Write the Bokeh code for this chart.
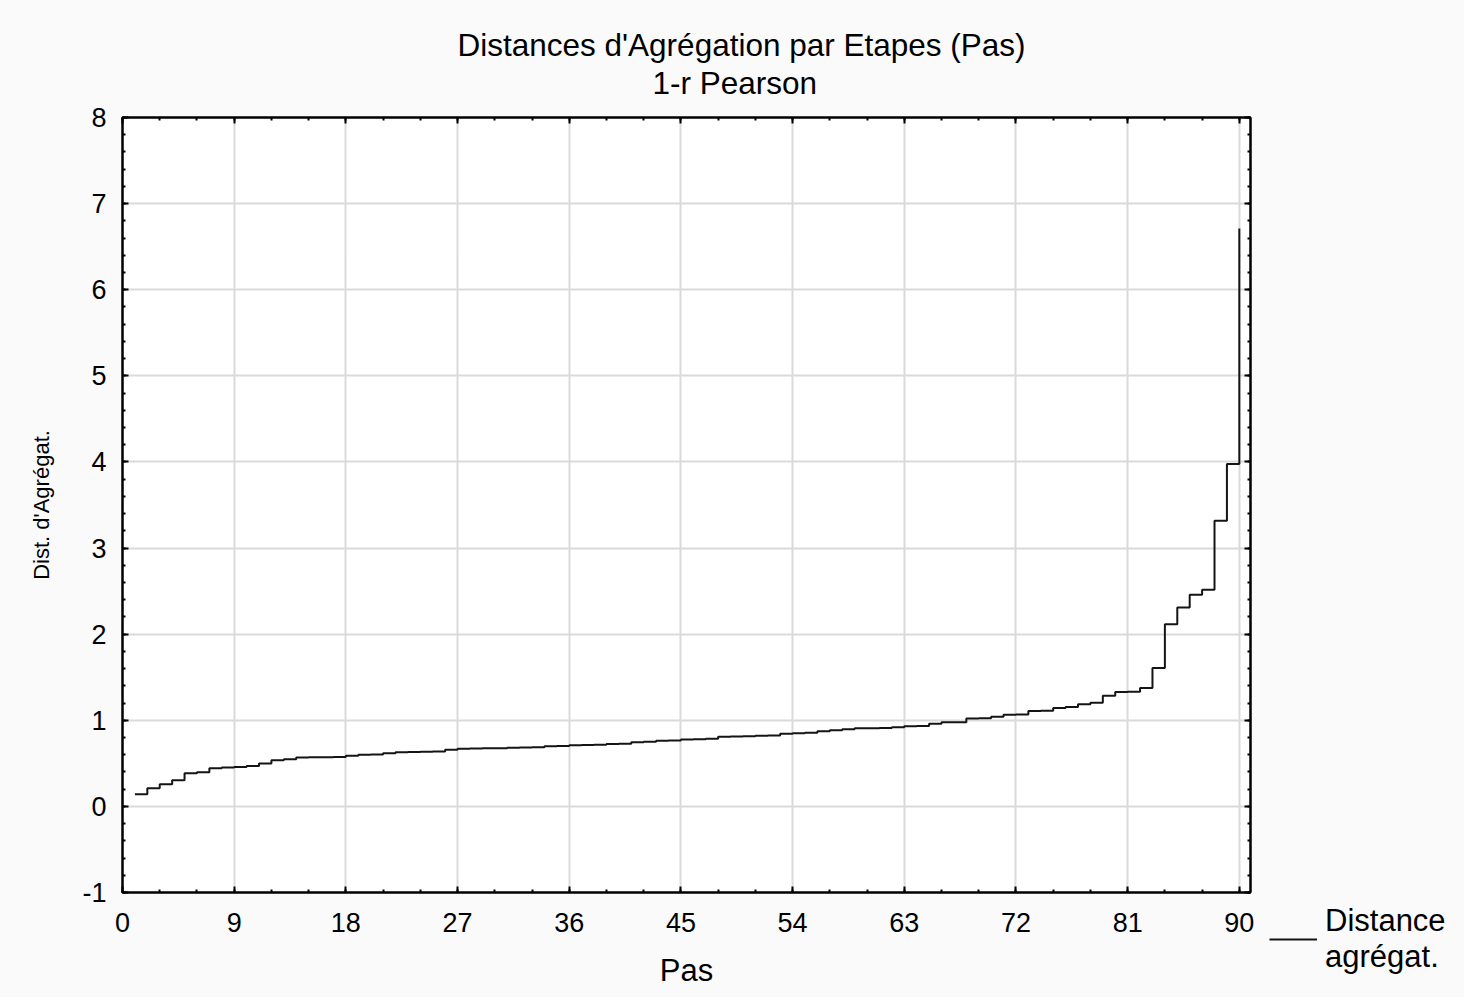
import numpy as np
from bokeh.plotting import figure
from bokeh.layouts import row, column
from bokeh.models import (Range1d, LinearAxis, SingleIntervalTicker, Legend, LegendItem,
                          CustomJSTickFormatter, PrintfTickFormatter, Title, Spacer)
from bokeh.core.properties import value
from bokeh.embed import file_html
from bokeh.resources import INLINE

# ---------------- data ----------------
steps = list(range(1, 91))
distances = [
    0.140, 0.210, 0.257, 0.303, 0.384, 0.396, 0.442, 0.452, 0.456, 0.469,
    0.497, 0.535, 0.547, 0.568, 0.570, 0.571, 0.573, 0.589, 0.600, 0.603,
    0.616, 0.628, 0.633, 0.635, 0.637, 0.659, 0.670, 0.672, 0.674, 0.676,
    0.682, 0.685, 0.688, 0.698, 0.700, 0.709, 0.712, 0.715, 0.725, 0.728,
    0.744, 0.752, 0.763, 0.766, 0.776, 0.779, 0.786, 0.810, 0.812, 0.814,
    0.821, 0.824, 0.845, 0.848, 0.856, 0.872, 0.883, 0.895, 0.906, 0.908,
    0.910, 0.918, 0.930, 0.933, 0.960, 0.976, 0.978, 1.020, 1.025, 1.042,
    1.065, 1.068, 1.107, 1.110, 1.142, 1.154, 1.185, 1.204, 1.285, 1.328,
    1.332, 1.375, 1.606, 2.115, 2.310, 2.457, 2.515, 3.316, 3.977, 6.710,
]
title_line1 = "Distances d'Agrégation par Etapes (Pas)"
title_line2 = "1-r Pearson"
x_label = "Pas"
y_label = "Dist. d'Agrégat."
legend_label = "Distance\nagrégat."
x_interval = 9
y_interval = 1

FONT = "Liberation Sans"
BG = "#fafafa"
LINE = "#141414"

p = figure(width=1262, height=997, output_backend="svg", toolbar_location=None,
           x_range=Range1d(0, 90.9), y_range=Range1d(-1, 8),
           min_border_left=122, min_border_right=12, min_border_top=117,
           min_border_bottom=105)
p.title.visible = False
p.background_fill_color = "white"
p.border_fill_color = BG
p.outline_line_color = "black"
p.outline_line_width = 2

xt = SingleIntervalTicker(interval=x_interval, num_minor_ticks=3)
yt = SingleIntervalTicker(interval=y_interval, num_minor_ticks=5)

bottom_ax = p.below[0]
left_ax = p.left[0]
bottom_ax.ticker = xt
left_ax.ticker = yt
bottom_ax.formatter = PrintfTickFormatter(format="%d")
left_ax.formatter = PrintfTickFormatter(format="%d")
p.xgrid.ticker = xt
p.ygrid.ticker = yt
for g in (p.xgrid[0], p.ygrid[0]):
    g.grid_line_color = "#dadada"
    g.grid_line_width = 2

top_ax = LinearAxis(ticker=xt, formatter=CustomJSTickFormatter(code="return ''"))
right_ax = LinearAxis(ticker=yt, formatter=CustomJSTickFormatter(code="return ''"))
p.add_layout(top_ax, "above")
p.add_layout(right_ax, "right")


def style(ax):
    ax.axis_line_color = "black"
    ax.axis_line_width = 2
    ax.major_tick_in = 6
    ax.major_tick_out = 0
    ax.minor_tick_in = 3
    ax.minor_tick_out = 0
    ax.major_tick_line_color = "black"
    ax.major_tick_line_width = 2
    ax.minor_tick_line_color = "black"
    ax.minor_tick_line_width = 2
    ax.major_label_text_font = FONT
    ax.major_label_text_font_size = "27px"
    ax.major_label_text_color = "black"
    ax.major_label_standoff = 16
    ax.axis_label_text_font = FONT
    ax.axis_label_text_font_style = "normal"
    ax.axis_label_text_color = "black"


for ax in (bottom_ax, left_ax, top_ax, right_ax):
    style(ax)
bottom_ax.major_label_standoff = 20
top_ax.major_label_standoff = 0
right_ax.major_label_standoff = 0

bottom_ax.axis_label = x_label
bottom_ax.axis_label_text_font_size = "31px"
bottom_ax.axis_label_standoff = 18
left_ax.axis_label = y_label
left_ax.axis_label_text_font_size = "22px"
left_ax.axis_label_standoff = 25

r = p.step(steps, distances, mode="after", line_color=LINE, line_width=2)

# titles: added closest-first
t2 = Title(text=title_line2, align="left", offset=530, standoff=34,
           text_font=FONT, text_font_size="31.5px", text_font_style="normal",
           text_color="black")
t1 = Title(text=title_line1, align="left", offset=335, standoff=-34,
           text_font=FONT, text_font_size="31.5px", text_font_style="normal",
           text_color="black")
p.add_layout(t2, "above")
p.add_layout(t1, "above")

# ---- legend key (small figure at the lower right, beside the chart) ----
lg = figure(width=202, height=102, output_backend="svg", toolbar_location=None,
            x_range=Range1d(-10, -9), y_range=Range1d(-10, -9),
            x_axis_location=None, y_axis_location=None, min_border=0)
lg.title.visible = False
lg.outline_line_color = None
lg.background_fill_color = BG
lg.border_fill_color = BG
lg.grid.visible = False
# same series, drawn outside this small figure's view: only its legend key shows
key = lg.step(steps, distances, mode="after", line_color=LINE, line_width=2)
legend = Legend(items=[LegendItem(label=value(legend_label), renderers=[key])],
                location=(7, 22), glyph_width=48, glyph_height=20,
                padding=0, margin=0, spacing=0, label_standoff=8,
                border_line_color=None, background_fill_alpha=0,
                label_text_font=FONT, label_text_font_size="31px",
                label_text_line_height=1.26, label_text_color="black")
lg.add_layout(legend)

filler = Spacer(width=202, height=895, styles={"background-color": BG})
layout = row(p, column(filler, lg, spacing=0, styles={"background-color": BG}),
             spacing=0, styles={"background-color": BG})

html = file_html(layout, INLINE, title="Distances d'Agrégation")
html = html.replace("<body>", '<body style="background-color:#fafafa;">', 1)
open("out.html", "w").write(html)
